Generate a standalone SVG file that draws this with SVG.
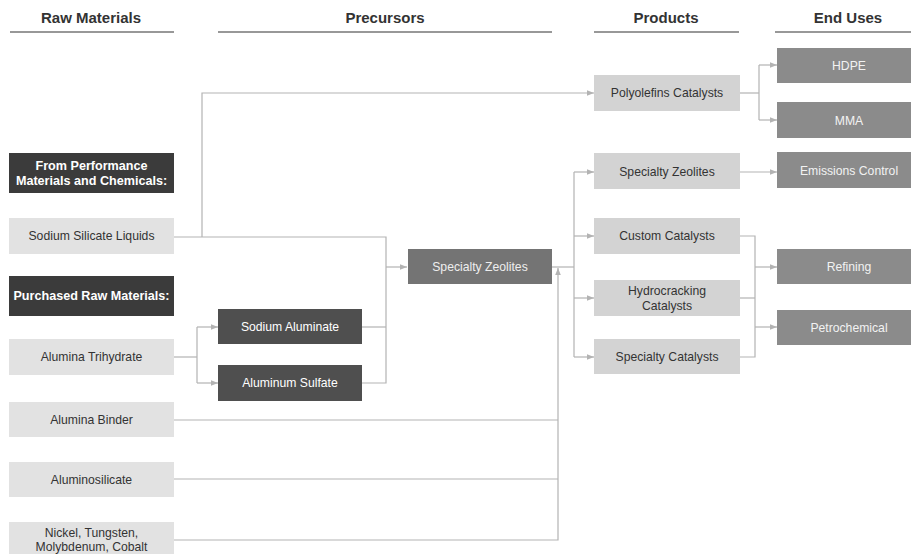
<svg xmlns="http://www.w3.org/2000/svg" width="911" height="554" viewBox="0 0 911 554">
<style>
text{font-family:"Liberation Sans",Arial,sans-serif;text-anchor:middle;dominant-baseline:central}
.hd{font-size:15px;font-weight:bold;fill:#333}
.ul{stroke:#333;stroke-width:1.2}
.raw rect{fill:#e2e2e2}.raw text{font-size:12.2px;fill:#333}
.lab rect{fill:#3b3b3b}.lab text{font-size:12.6px;font-weight:bold;fill:#fff}
.pre rect{fill:#4f4f4f}.pre text{font-size:12.2px;fill:#fff}
.mid rect{fill:#747474}.mid text{font-size:12.2px;fill:#eee}
.prod rect{fill:#d3d3d3}.prod text{font-size:12.2px;fill:#333}
.end rect{fill:#8b8b8b}.end text{font-size:12.2px;fill:#f2f2f2}
#connectors path{fill:none;stroke:#b3b3b3;stroke-width:1.2}
</style>
<defs>
<marker id="ah" viewBox="0 0 8 8" refX="8" refY="4" markerWidth="7" markerHeight="7" markerUnits="userSpaceOnUse" orient="auto">
<path d="M0,0.8 L8,4 L0,7.2 Z" fill="#b3b3b3"/>
</marker>
</defs>
<rect width="911" height="554" fill="#fff"/>
<g id="headers">
<text class="hd" x="91" y="17">Raw Materials</text>
<line class="ul" x1="10" y1="32" x2="174" y2="32"/>
<text class="hd" x="385" y="17">Precursors</text>
<line class="ul" x1="218" y1="32" x2="552" y2="32"/>
<text class="hd" x="666" y="17">Products</text>
<line class="ul" x1="594" y1="32" x2="739" y2="32"/>
<text class="hd" x="848" y="17">End Uses</text>
<line class="ul" x1="775" y1="32" x2="911" y2="32"/>
</g>
<g id="connectors">
<path d="M174,237 H386 V383 H362"/>
<path d="M362,327 H386"/>
<path d="M386,267 H407" marker-end="url(#ah)"/>
<path d="M202,237 V93 H594" marker-end="url(#ah)"/>
<path d="M174,357 H197"/>
<path d="M197,327 V383"/>
<path d="M197,327 H218" marker-end="url(#ah)"/>
<path d="M197,383 H218" marker-end="url(#ah)"/>
<path d="M174,420 H558"/>
<path d="M174,479 H558"/>
<path d="M174,540 H558 V268" marker-end="url(#ah)"/>
<path d="M552,267 H574"/>
<path d="M574,172 V357"/>
<path d="M574,172 H594" marker-end="url(#ah)"/>
<path d="M574,236 H594" marker-end="url(#ah)"/>
<path d="M574,298 H594" marker-end="url(#ah)"/>
<path d="M574,357 H594" marker-end="url(#ah)"/>
<path d="M740,93 H759"/>
<path d="M759,65 V120"/>
<path d="M759,65 H777" marker-end="url(#ah)"/>
<path d="M759,120 H777" marker-end="url(#ah)"/>
<path d="M740,172 H777" marker-end="url(#ah)"/>
<path d="M740,236 H755 V357 H740"/>
<path d="M740,298 H755"/>
<path d="M755,267 H777" marker-end="url(#ah)"/>
<path d="M755,327 H777" marker-end="url(#ah)"/>
</g>
<g id="lab-performance" class="lab"><rect x="9" y="153" width="165" height="40"/><text x="91.5" y="166">From Performance</text><text x="91.5" y="181">Materials and Chemicals:</text></g>
<g id="raw-sodium-silicate" class="raw"><rect x="9" y="218" width="165" height="36"/><text x="91.5" y="236">Sodium Silicate Liquids</text></g>
<g id="lab-purchased" class="lab"><rect x="9" y="276" width="165" height="40"/><text x="91.5" y="296">Purchased Raw Materials:</text></g>
<g id="raw-alumina-trihydrate" class="raw"><rect x="9" y="339" width="165" height="36"/><text x="91.5" y="357">Alumina Trihydrate</text></g>
<g id="raw-alumina-binder" class="raw"><rect x="9" y="402" width="165" height="35"/><text x="91.5" y="420">Alumina Binder</text></g>
<g id="raw-aluminosilicate" class="raw"><rect x="9" y="462" width="165" height="35"/><text x="91.5" y="480">Aluminosilicate</text></g>
<g id="raw-nickel" class="raw"><rect x="9" y="522" width="165" height="36"/><text x="91.5" y="533">Nickel, Tungsten,</text><text x="91.5" y="547">Molybdenum, Cobalt</text></g>
<g id="pre-sodium-aluminate" class="pre"><rect x="218" y="309" width="144" height="35"/><text x="290" y="327">Sodium Aluminate</text></g>
<g id="pre-aluminum-sulfate" class="pre"><rect x="218" y="365" width="144" height="36"/><text x="290" y="383">Aluminum Sulfate</text></g>
<g id="pre-specialty-zeolites" class="mid"><rect x="408" y="249" width="144" height="35"/><text x="480" y="267">Specialty Zeolites</text></g>
<g id="prod-polyolefins" class="prod"><rect x="594" y="75" width="146" height="36"/><text x="667" y="93">Polyolefins Catalysts</text></g>
<g id="prod-specialty-zeolites" class="prod"><rect x="594" y="153" width="146" height="36"/><text x="667" y="172">Specialty Zeolites</text></g>
<g id="prod-custom" class="prod"><rect x="594" y="218" width="146" height="36"/><text x="667" y="236">Custom Catalysts</text></g>
<g id="prod-hydrocracking" class="prod"><rect x="594" y="280" width="146" height="36"/><text x="667" y="291">Hydrocracking</text><text x="667" y="306">Catalysts</text></g>
<g id="prod-specialty-catalysts" class="prod"><rect x="594" y="339" width="146" height="35"/><text x="667" y="357">Specialty Catalysts</text></g>
<g id="end-hdpe" class="end"><rect x="777" y="48" width="134" height="35"/><text x="849" y="66">HDPE</text></g>
<g id="end-mma" class="end"><rect x="777" y="102" width="134" height="36"/><text x="849" y="121">MMA</text></g>
<g id="end-emissions" class="end"><rect x="777" y="152" width="134" height="36"/><text x="849" y="171">Emissions Control</text></g>
<g id="end-refining" class="end"><rect x="777" y="249" width="134" height="35"/><text x="849" y="267">Refining</text></g>
<g id="end-petrochemical" class="end"><rect x="777" y="310" width="134" height="35"/><text x="849" y="328">Petrochemical</text></g>
</svg>
